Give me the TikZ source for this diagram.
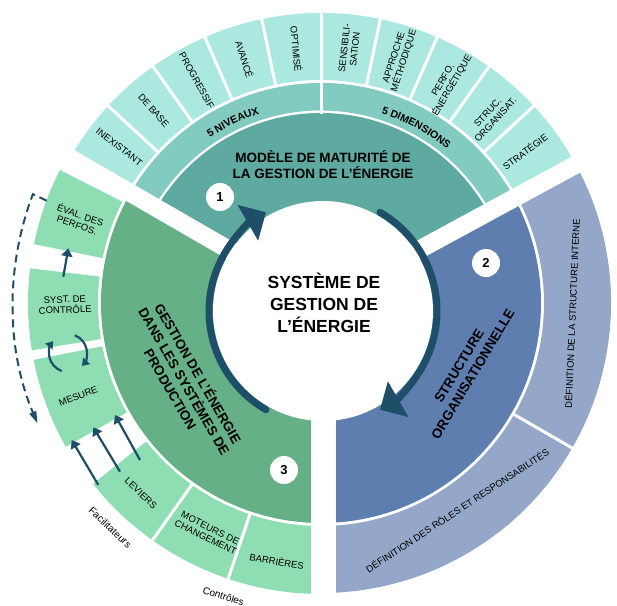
\documentclass[tikz,border=0pt]{standalone}
\usepackage{fontspec}
\setmainfont{Liberation Sans}
\usepackage{tikz}
\usetikzlibrary{arrows.meta,decorations.text}

\definecolor{tealbox}{RGB}{171,232,223}
\definecolor{bande}{RGB}{130,203,192}
\definecolor{modele}{RGB}{94,170,160}
\definecolor{structure}{RGB}{95,126,176}
\definecolor{bluebox}{RGB}{148,167,200}
\definecolor{gestion}{RGB}{102,176,136}
\definecolor{greenbox}{RGB}{143,221,179}
\definecolor{arrowblue}{RGB}{31,78,105}

\begin{document}
\begin{tikzpicture}[x=1pt, y=1pt,
        lbl/.style={align=center, inner sep=0, text=black, font=\fontsize{9.5}{10.5}\selectfont},
        head/.style={align=center, inner sep=0, text=black, font=\bfseries\fontsize{13.5}{16}\selectfont},
        badge/.style={circle, fill=white, inner sep=0, minimum size=28pt, font=\bfseries\fontsize{13}{13}\selectfont},
        cut/.style={white, line width=3pt},
        gap/.style={white, line width=18pt},
        loop arrow/.style={arrowblue, line width=7pt, line cap=round, -{Triangle[length=21pt,width=40pt]}},
        small arrow/.style={arrowblue, line width=2.2pt, -{Triangle[length=8pt,width=11pt]}},
        curl arrow/.style={arrowblue, line width=2.2pt, -{Triangle[length=7pt,width=9pt]}},
        back arrow/.style={arrowblue, line width=2pt, dash pattern=on 8pt off 5pt, -{Triangle[length=12pt,width=7pt]}},
        band text/.style={decorate, decoration={text along path, text align=center, text={|\bfseries\fontsize{10.5}{12}\selectfont|#1}}}]
    \useasboundingbox (-321,-302) rectangle (296,303);

    \fill[modele] (0,0) -- (30:190) arc[start angle=30, end angle=150, radius=190pt] -- cycle;
    \fill[bande] (30:192.5) arc[start angle=30, end angle=150, radius=192.5pt] -- (150:220) arc[start angle=150, end angle=30, radius=220pt] -- cycle;
    \fill[tealbox] (30:223) arc[start angle=30, end angle=150, radius=223pt] -- (150:290) arc[start angle=150, end angle=30, radius=290pt] -- cycle;
    \fill[structure] (0,0) -- (-90:220) arc[start angle=-90, end angle=30, radius=220pt] -- cycle;
    \fill[bluebox] (-90:223) arc[start angle=-90, end angle=30, radius=223pt] -- (30:290) arc[start angle=30, end angle=-90, radius=290pt] -- cycle;
    \fill[gestion] (0,0) -- (150:220) arc[start angle=150, end angle=270, radius=220pt] -- cycle;
    \fill[greenbox] (153:223) arc[start angle=153, end angle=168.4, radius=223pt] -- (168.4:293) arc[start angle=168.4, end angle=153, radius=293pt] -- cycle;
    \fill[greenbox] (173.2:223) arc[start angle=173.2, end angle=189.3, radius=223pt] -- (189.3:293) arc[start angle=189.3, end angle=173.2, radius=293pt] -- cycle;
    \fill[greenbox] (191.2:223) arc[start angle=191.2, end angle=209.4, radius=223pt] -- (209.4:293) arc[start angle=209.4, end angle=191.2, radius=293pt] -- cycle;
    \fill[greenbox] (218.4:223) arc[start angle=218.4, end angle=270, radius=223pt] -- (270:291) arc[start angle=270, end angle=218.4, radius=291pt] -- cycle;

    \draw[cut] (90:189) -- (90:295);
    \draw[cut] (101.8:221) -- (101.8:295);
    \draw[cut] (113.6:221) -- (113.6:295);
    \draw[cut] (125.4:221) -- (125.4:295);
    \draw[cut] (137.2:221) -- (137.2:295);
    \draw[cut] (78.2:221) -- (78.2:295);
    \draw[cut] (66.4:221) -- (66.4:295);
    \draw[cut] (54.6:221) -- (54.6:295);
    \draw[cut] (42.8:221) -- (42.8:295);
    \draw[cut] (-30:221) -- (-30:295);
    \draw[cut] (234.6:221) -- (234.6:295);
    \draw[cut] (251.4:221) -- (251.4:295);
    \draw[gap] (0,0) -- (150:300);
    \draw[gap] (0,0) -- (28.5:300);
    \draw[white, line width=25pt] (2,0) -- (2,-300);
    \fill[white] (2,-8) circle[radius=110pt];

    \coordinate (a1) at ([shift={(2,-8)}]240:114);
    \coordinate (b1) at ([shift={(2,-8)}]60:114);
    \draw[loop arrow] (a1) arc[start angle=240, end angle=120, radius=114pt];
    \draw[loop arrow] (b1) arc[start angle=60, end angle=-60, radius=114pt];

    \node[badge] (n1) at (-101,106) {1};
    \node[badge] (n2) at (165,40) {2};
    \node[badge] (n3) at (-37,-167) {3};

    \node[align=center, text=black, font=\bfseries\fontsize{17.5}{21.7}\selectfont] (sys) at (3,0) {SYSTÈME DE\\GESTION DE\\L’ÉNERGIE};
    \node[head] (mod) at (2,138) {MODÈLE DE MATURITÉ DE\\LA GESTION DE L’ÉNERGIE};
    \node[head, rotate=59] (org) at (145,-67) {STRUCTURE\\ORGANISATIONNELLE};
    \node[head, rotate=-60] (gst) at (-136,-78) {GESTION DE L’ÉNERGIE\\DANS LES SYSTÈMES DE\\PRODUCTION};

    \path[band text={5 NIVEAUX}] (136:199) arc[start angle=136, end angle=96, radius=199pt];
    \path[band text={5 DIMENSIONS}] (81.5:199) arc[start angle=81.5, end angle=41.5, radius=199pt];

    \node[lbl, rotate=-37.7] (inx) at (142.3:255) {INEXISTANT};
    \node[lbl, rotate=-49] (deb) at (131:255) {DE BASE};
    \node[lbl, rotate=-60.8] (prg) at (119.2:255) {PROGRESSIF};
    \node[lbl, rotate=-72.6] (avc) at (107.4:255) {AVANCÉ};
    \node[lbl, rotate=-84.5] (opt) at (95.5:255) {OPTIMISÉ};
    \node[lbl, rotate=83.6] (sen) at (83.6:256) {SENSIBILI-\\SATION};
    \node[lbl, rotate=72.2] (app) at (72.2:256) {APPROCHE\\MÉTHODIQUE};
    \node[lbl, rotate=60] (pef) at (60:254) {PERFO.\\ÉNERGÉTIQUE};
    \node[lbl, rotate=47.6] (stc) at (47.6:253) {STRUC.\\ORGANISAT.};
    \node[lbl, rotate=36.6] (str) at (36.6:254) {STRATÉGIE};

    \node[lbl, rotate=87.6] (dsi) at (-2.4:251) {DÉFINITION DE LA STRUCTURE INTERNE};
    \node[lbl, rotate=33.3] (drr) at (-56.7:248) {DÉFINITION DES RÔLES ET RESPONSABILITÉS};

    \node[lbl, rotate=-19] (evl) at (161:256) {ÉVAL. DES\\PERFOS.};
    \node[lbl, rotate=2] (sdc) at (180.4:256) {SYST. DE\\CONTRÔLE};
    \node[lbl, rotate=21] (mes) at (201:260) {MESURE};
    \node[lbl, rotate=-43.4] (lev) at (226.6:262) {LEVIERS};
    \node[lbl, rotate=-26.2] (mot) at (243.8:256) {MOTEURS DE\\CHANGEMENT};
    \node[lbl, rotate=-9.7] (bar) at (260.3:262) {BARRIÈRES};

    \node[text=black, font=\fontsize{10}{11}\selectfont, rotate=-43] (fac) at (226.8:308) {Facilitateurs};
    \node[text=black, font=\fontsize{10}{11}\selectfont, rotate=-18] (ctl) at (251.6:309) {Contrôles};

    \coordinate (s1) at (-257.7,26.3);
    \coordinate (e1) at (-252.7,54.7);
    \draw[small arrow] (s1) -- (e1);
    \coordinate (k1) at (-259.2,-68);
    \coordinate (k2) at (-246.2,-32.3);
    \draw[curl arrow] (k1) arc[start angle=251, end angle=141, radius=19pt];
    \draw[curl arrow] (k2) arc[start angle=69, end angle=-43, radius=19pt];
    \coordinate (l1) at (-222.7,-182);
    \coordinate (m1) at (-249.3,-137);
    \coordinate (l2) at (-201,-168.7);
    \coordinate (m2) at (-227.7,-124.3);
    \coordinate (l3) at (-181,-157);
    \coordinate (m3) at (-206,-112);
    \draw[small arrow] (l1) -- (m1);
    \draw[small arrow] (l2) -- (m2);
    \draw[small arrow] (l3) -- (m3);
    \coordinate (d0) at (-274.3,102.3);
    \coordinate (d1) at (159.3:308);
    \draw[back arrow] (d0) -- (d1) arc[start angle=159.3, end angle=203, radius=308pt];
\end{tikzpicture}
\end{document}
